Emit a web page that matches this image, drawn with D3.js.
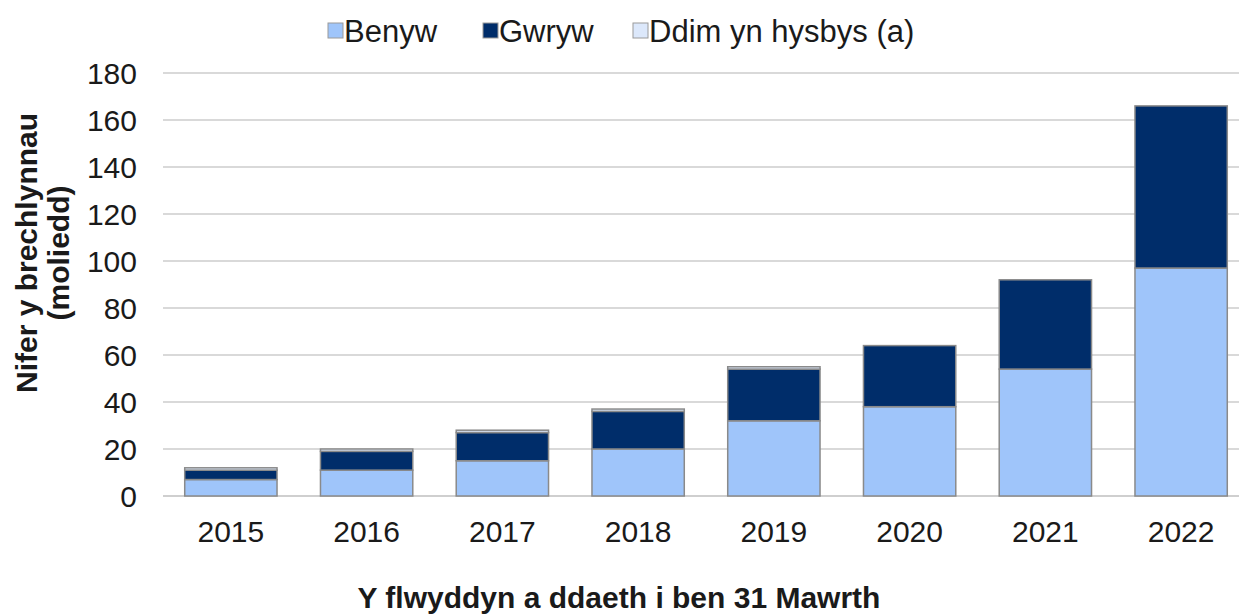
<!DOCTYPE html>
<html>
<head>
<meta charset="utf-8">
<script src="https://cdn.jsdelivr.net/npm/d3@7"></script>
<style>
  body { margin: 0; background: #fff; }
  text { font-family: "Liberation Sans", Arial, sans-serif; fill: #1a1a1a; }
</style>
</head>
<body>
<script>
const years = ['2015', '2016', '2017', '2018', '2019', '2020', '2021', '2022'];
const benyw = [7, 11, 15, 20, 32, 38, 54, 97];
const gwryw = [4, 8, 12, 16, 22, 26, 38, 69];
const ddim = [1, 1, 1, 1, 1, 0, 0, 0];
const yTicks = [0, 20, 40, 60, 80, 100, 120, 140, 160, 180];

const keys = ['Benyw', 'Gwryw', 'Ddim yn hysbys (a)'];
const colors = ['#9fc5fa', '#002d6a', '#dce8fb'];

const width = 1239;
const height = 614;
const plotLeft = 163, plotRight = 1249, plotTop = 73, plotBottom = 496;

const rows = years.map((yr, i) => ({
  year: yr, 'Benyw': benyw[i], 'Gwryw': gwryw[i], 'Ddim yn hysbys (a)': ddim[i]
}));

const svg = d3.select(document.body)
  .append('svg')
  .attr('width', width)
  .attr('height', height);

const x = d3.scaleBand()
  .domain(years)
  .range([plotLeft, plotRight])
  .paddingInner(0.32)
  .paddingOuter(0.16);

const y = d3.scaleLinear()
  .domain([0, 180])
  .range([plotBottom, plotTop]);

// gridlines
svg.append('g')
  .selectAll('line')
  .data(yTicks)
  .enter()
  .append('line')
  .attr('x1', plotLeft)
  .attr('x2', width)
  .attr('y1', d => y(d))
  .attr('y2', d => y(d))
  .style('stroke', d => d === 0 ? '#cfcfcf' : '#d9d9d9')
  .style('stroke-width', 2);

// y tick labels
svg.append('g')
  .selectAll('text')
  .data(yTicks)
  .enter()
  .append('text')
  .attr('x', 137)
  .attr('y', d => y(d))
  .attr('dy', '0.36em')
  .attr('text-anchor', 'end')
  .style('font-size', '30px')
  .text(d => d);

const stacked = d3.stack().keys(keys)(rows);

svg.append('g')
  .selectAll('g')
  .data(stacked)
  .enter()
  .append('g')
  .style('fill', (d, i) => colors[i])
  .selectAll('rect')
  .data(d => d.filter(s => s[1] > s[0]))
  .enter()
  .append('rect')
  .attr('x', d => x(d.data.year))
  .attr('y', d => y(d[1]))
  .attr('width', x.bandwidth())
  .attr('height', d => y(d[0]) - y(d[1]))
  .style('stroke', '#8a8a8a')
  .style('stroke-width', 1.5);

// x tick labels
svg.append('g')
  .selectAll('text')
  .data(years)
  .enter()
  .append('text')
  .attr('x', d => x(d) + x.bandwidth() / 2)
  .attr('y', 542)
  .attr('text-anchor', 'middle')
  .style('font-size', '30px')
  .text(d => d);

// axis titles
svg.append('text')
  .attr('x', 619)
  .attr('y', 608)
  .attr('text-anchor', 'middle')
  .style('font-size', '30px')
  .style('font-weight', 'bold')
  .text('Y flwyddyn a ddaeth i ben 31 Mawrth');

const yTitle = svg.append('text')
  .attr('transform', 'translate(0,253) rotate(-90)')
  .attr('text-anchor', 'middle')
  .style('font-size', '30px')
  .style('font-weight', 'bold');
yTitle.append('tspan').attr('x', 0).attr('y', 37).text('Nifer y brechlynnau');
yTitle.append('tspan').attr('x', 0).attr('y', 69).text('(moliedd)');

// legend
const legendX = [328, 483, 633];
const legend = svg.append('g')
  .selectAll('g')
  .data(keys)
  .enter()
  .append('g')
  .attr('transform', (d, i) => 'translate(' + legendX[i] + ',23)');

legend.append('rect')
  .attr('width', 15)
  .attr('height', 15)
  .style('fill', (d, i) => colors[i])
  .style('stroke', '#9a9a9a')
  .style('stroke-width', 1);

legend.append('text')
  .attr('x', 16)
  .attr('y', 8)
  .attr('dy', '0.36em')
  .style('font-size', '31px')
  .text(d => d);
</script>
</body>
</html>
